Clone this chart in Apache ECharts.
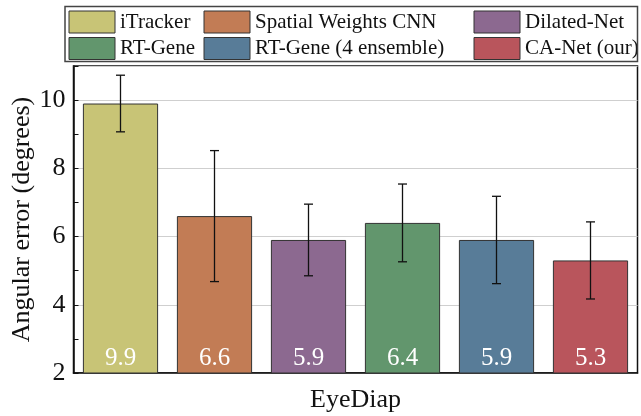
<!DOCTYPE html>
<html>
<head>
<meta charset="utf-8">
<script src="https://cdn.jsdelivr.net/npm/echarts@6/dist/echarts.min.js"></script>
<style>html,body{margin:0;padding:0;background:#fff}#c{width:641px;height:416px}</style>
</head>
<body>
<div id="c"></div>
<script>
const categories = ['iTracker', 'Spatial Weights CNN', 'Dilated-Net', 'RT-Gene', 'RT-Gene (4 ensemble)', 'CA-Net (our)'];
const values = [9.9, 6.6, 5.9, 6.4, 5.9, 5.3];
const errors = [0.83, 1.92, 1.05, 1.14, 1.28, 1.13];
const colors = ['#c8c476', '#c27c55', '#8c6990', '#62966d', '#587c98', '#b9555c'];
const datasetName = 'EyeDiap';
const yName = 'Angular error (degrees)';

const FONT = 'Liberation Serif';
const chart = echarts.init(document.getElementById('c'));

const barSeries = categories.map((name, i) => ({
  name: name,
  type: 'bar',
  stack: 'all',
  barCategoryGap: '20%',
  yAxisIndex: 0,
  data: categories.map((c, j) => j === i ? values[i] : '-'),
  itemStyle: { color: colors[i], borderColor: '#333', borderWidth: 1 },
  label: {
    show: true, position: 'insideBottom', distance: 3,
    color: '#fff', fontFamily: FONT, fontSize: 25,
    formatter: p => Number(p.value).toFixed(1)
  },
  emphasis: { disabled: true },
  animation: false
}));

const errSeries = {
  name: 'err',
  type: 'custom',
  yAxisIndex: 0,
  z: 10,
  animation: false,
  data: categories.map((c, i) => [i, values[i] - errors[i], values[i] + errors[i]]),
  encode: { x: 0, y: [1, 2] },
  renderItem: function (params, api) {
    const x = api.value(0);
    const top = api.coord([x, api.value(2)]);
    const bot = api.coord([x, api.value(1)]);
    const w = 4.5;
    const st = { stroke: '#111', lineWidth: 1.3 };
    return {
      type: 'group',
      children: [
        { type: 'line', shape: { x1: top[0], y1: top[1], x2: bot[0], y2: bot[1] }, style: st },
        { type: 'line', shape: { x1: top[0] - w, y1: top[1], x2: top[0] + w, y2: top[1] }, style: st },
        { type: 'line', shape: { x1: bot[0] - w, y1: bot[1], x2: bot[0] + w, y2: bot[1] }, style: st }
      ]
    };
  }
};

const legendBase = {
  orient: 'vertical', top: 10.5, itemWidth: 46, itemHeight: 22, itemGap: 3.5,
  padding: 0, selectedMode: false, icon: 'rect',
  itemStyle: { borderColor: '#333', borderWidth: 1 },
  textStyle: { fontFamily: FONT, fontSize: 21, color: '#111' }
};

chart.setOption({
  animation: false,
  color: colors,
  graphic: [{
    type: 'rect', shape: { x: 65, y: 6.5, width: 572.5, height: 55 },
    style: { fill: 'none', stroke: '#444', lineWidth: 1.5 }, z: 100
  }],
  legend: [
    Object.assign({}, legendBase, { left: 68.5, data: [categories[0], categories[3]] }),
    Object.assign({}, legendBase, { left: 203.5, data: [categories[1], categories[4]] }),
    Object.assign({}, legendBase, { left: 473.5, data: [categories[2], categories[5]] })
  ],
  grid: { left: 73.5, right: 3.5, top: 66, bottom: 43, show: true, borderColor: '#111', borderWidth: 1.5, containLabel: false, outerBoundsMode: 'none' },
  xAxis: {
    type: 'category', data: categories,
    name: datasetName, nameLocation: 'middle', nameGap: 14, nameMoveOverlap: false,
    nameTextStyle: { fontFamily: FONT, fontSize: 26, color: '#111' },
    axisLabel: { show: false }, axisTick: { show: false },
    axisLine: { lineStyle: { color: '#111', width: 1.5 } }
  },
  yAxis: [{
    type: 'value', min: 2, max: 11, interval: 2,
    name: yName, nameLocation: 'middle', nameGap: 38, nameMoveOverlap: false,
    nameTextStyle: { fontFamily: FONT, fontSize: 26, color: '#111' },
    axisLabel: { fontFamily: FONT, fontSize: 26, color: '#111', margin: 8, showMaxLabel: false },
    axisLine: { show: true, lineStyle: { color: '#111', width: 1.5 } },
    axisTick: { show: false },
    splitLine: { show: true, lineStyle: { color: '#cfcfcf', width: 1.2 } }
  }, {
    type: 'value', min: 2, max: 11, interval: 1, position: 'left',
    axisLabel: { show: false },
    axisLine: { show: false },
    axisTick: { show: true, inside: true, length: 5, lineStyle: { color: '#111', width: 1 } },
    splitLine: { show: false }
  }],
  series: barSeries.concat([errSeries])
});
</script>
</body>
</html>
